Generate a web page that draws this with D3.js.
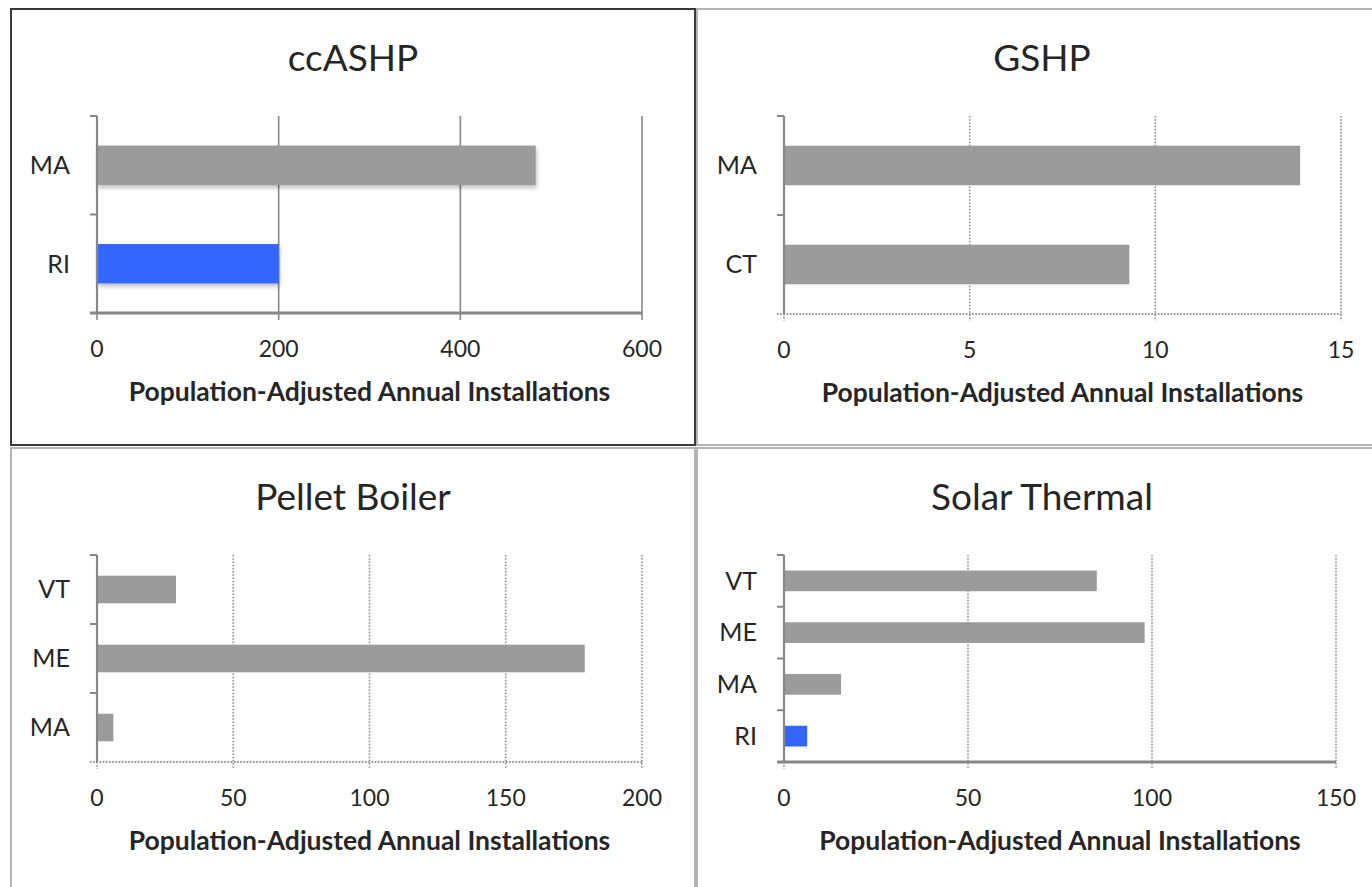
<!DOCTYPE html>
<html>
<head>
<meta charset="utf-8">
<script src="https://cdn.jsdelivr.net/npm/d3@7"></script>
<style>
  html, body { margin: 0; padding: 0; background: #ffffff; }
  svg { display: block; }
  text { font-family: "Lato", "Open Sans", sans-serif; fill: #262626; }
</style>
</head>
<body>
<svg id="chart" width="1372" height="887"></svg>
<script>
// ---- Data ----
const ccashpStates = ["MA", "RI"];
const ccashpValues = [483, 200];
const ccashpTicks = [0, 200, 400, 600];

const gshpStates = ["MA", "CT"];
const gshpValues = [13.9, 9.3];
const gshpTicks = [0, 5, 10, 15];

const pelletStates = ["VT", "ME", "MA"];
const pelletValues = [29, 179, 6];
const pelletTicks = [0, 50, 100, 150, 200];

const solarStates = ["VT", "ME", "MA", "RI"];
const solarValues = [85, 98, 15.5, 6.3];
const solarTicks = [0, 50, 100, 150];

const panelTitles = ["ccASHP", "GSHP", "Pellet Boiler", "Solar Thermal"];
const axisTitle = "Population-Adjusted Annual Installations";
const highlightState = "RI";

// ---- Layout ----
const svg = d3.select("#chart");
const defs = svg.append("defs");
const f = defs.append("filter").attr("id", "shadow").attr("x", "-5%").attr("y", "-20%").attr("width", "110%").attr("height", "160%");
f.append("feDropShadow").attr("dx", 1).attr("dy", 3).attr("stdDeviation", 2).attr("flood-color", "#000").attr("flood-opacity", 0.25);

const panels = [
  { title: panelTitles[0], states: ccashpStates, values: ccashpValues, ticks: ccashpTicks,
    box: [11, 9, 684, 436], border: "#3a3a3a", bw: 2,
    plot: { x0: 97, x1: 642, y0: 116, y1: 313 }, gridStyle: "solid", axisStyle: "solid", shadow: true },
  { title: panelTitles[1], states: gshpStates, values: gshpValues, ticks: gshpTicks,
    box: [697, 9, 690, 436], border: "#b4b4b4", bw: 2,
    plot: { x0: 784, x1: 1341, y0: 116, y1: 314 }, gridStyle: "dotted", axisStyle: "dotted", shadow: false },
  { title: panelTitles[2], states: pelletStates, values: pelletValues, ticks: pelletTicks,
    box: [11, 448, 684, 450], border: "#b4b4b4", bw: 2,
    plot: { x0: 97, x1: 642, y0: 555, y1: 762 }, gridStyle: "dotted", axisStyle: "dotted", shadow: false },
  { title: panelTitles[3], states: solarStates, values: solarValues, ticks: solarTicks,
    box: [697, 448, 690, 450], border: "#b4b4b4", bw: 2,
    plot: { x0: 784, x1: 1336, y0: 555, y1: 762 }, gridStyle: "dotted", axisStyle: "solid", shadow: false }
];

const axisColor = "#878787";
const barGray = "#9b9b9b";
const barBlue = "#3366ff";

panels.forEach(p => {
  const g = svg.append("g");
  const [bx, by, bwid, bht] = p.box;
  g.append("rect")
    .attr("x", bx).attr("y", by).attr("width", bwid).attr("height", bht)
    .attr("fill", "#fff").attr("stroke", p.border).attr("stroke-width", p.bw);

  // title centred on the panel
  g.append("text")
    .attr("x", bx + bwid / 2).attr("y", by + 62)
    .attr("text-anchor", "middle")
    .style("font-size", "37px")
    .text(p.title);

  const x = d3.scaleLinear()
    .domain([p.ticks[0], p.ticks[p.ticks.length - 1]])
    .range([p.plot.x0, p.plot.x1]);
  const y = d3.scaleBand()
    .domain(p.states)
    .range([p.plot.y0, p.plot.y1])
    .paddingInner(0.6).paddingOuter(0.3);
  const yEdges = d3.scaleLinear().domain([0, p.states.length]).range([p.plot.y0, p.plot.y1]);

  // vertical gridlines (with downward tick marks)
  const grid = g.append("g");
  p.ticks.forEach((t, i) => {
    if (i === 0) return;
    const ln = grid.append("line")
      .attr("x1", x(t)).attr("x2", x(t))
      .attr("y1", p.plot.y0).attr("y2", p.plot.y1 + 7)
      .attr("stroke", axisColor);
    if (p.gridStyle === "dotted") ln.attr("stroke-width", 1.6).attr("stroke-dasharray", "1.6,1.6").attr("stroke", "#8f8f8f");
    else ln.attr("stroke-width", 1.6);
  });
  // tick below the zero line
  grid.append("line").attr("x1", x(0)).attr("x2", x(0))
    .attr("y1", p.plot.y1).attr("y2", p.plot.y1 + 7)
    .attr("stroke", axisColor).attr("stroke-width", 1.6)
    .attr("stroke-dasharray", p.gridStyle === "dotted" ? "1.6,1.6" : null);

  // bars
  g.append("g").selectAll("rect")
    .data(p.states.map((s, i) => ({ s, v: p.values[i] })))
    .join("rect")
    .attr("x", x(0))
    .attr("y", d => y(d.s))
    .attr("width", d => x(d.v) - x(0))
    .attr("height", y.bandwidth())
    .attr("fill", d => d.s === highlightState ? barBlue : barGray)
    .attr("filter", p.shadow ? "url(#shadow)" : null);

  // x axis line
  const xl = g.append("line")
    .attr("x1", p.plot.x0 - 7).attr("x2", p.plot.x1)
    .attr("y1", p.plot.y1).attr("y2", p.plot.y1);
  if (p.axisStyle === "dotted") xl.attr("stroke", "#8f8f8f").attr("stroke-width", 2).attr("stroke-dasharray", "1.6,1.6");
  else xl.attr("stroke", axisColor).attr("stroke-width", 3);

  // y axis line + ticks
  g.append("line")
    .attr("x1", p.plot.x0).attr("x2", p.plot.x0)
    .attr("y1", p.plot.y0).attr("y2", p.plot.y1)
    .attr("stroke", axisColor).attr("stroke-width", 2.2);
  d3.range(p.states.length).forEach(i => {
    g.append("line")
      .attr("x1", p.plot.x0 - 7).attr("x2", p.plot.x0)
      .attr("y1", yEdges(i)).attr("y2", yEdges(i))
      .attr("stroke", axisColor).attr("stroke-width", 2);
  });

  // category labels
  g.append("g").selectAll("text")
    .data(p.states)
    .join("text")
    .attr("x", p.plot.x0 - 27)
    .attr("y", d => y(d) + y.bandwidth() / 2)
    .attr("dy", "0.35em")
    .attr("text-anchor", "end")
    .style("font-size", "25px")
    .text(d => d);

  // tick labels
  g.append("g").selectAll("text")
    .data(p.ticks)
    .join("text")
    .attr("x", d => x(d))
    .attr("y", p.plot.y1 + 36)
    .attr("dy", "0.35em")
    .attr("text-anchor", "middle")
    .style("font-size", "23px")
    .text(d => d);

  // axis title
  g.append("text")
    .attr("x", (p.plot.x0 + p.plot.x1) / 2)
    .attr("y", p.plot.y1 + 79)
    .attr("dy", "0.35em")
    .attr("text-anchor", "middle")
    .style("font-size", "26.5px")
    .style("font-weight", "bold")
    .text(axisTitle);
});
</script>
</body>
</html>
